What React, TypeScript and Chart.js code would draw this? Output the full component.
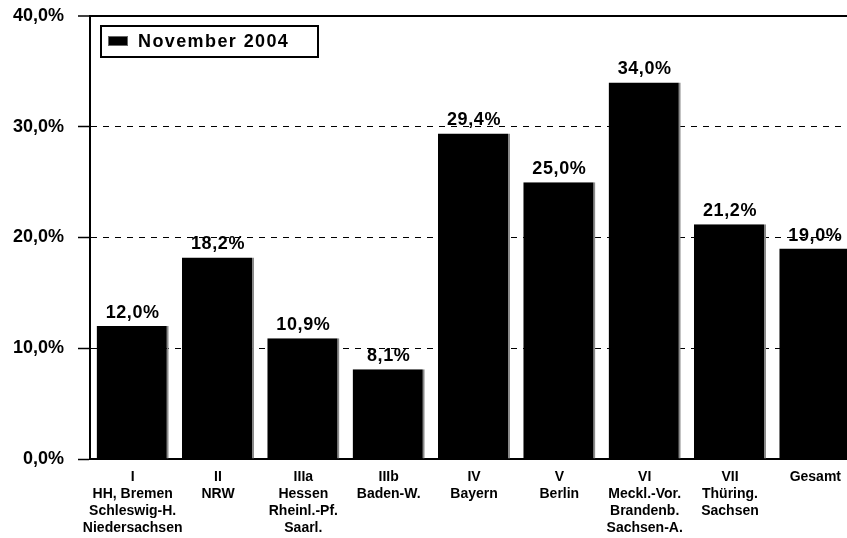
import React, { useEffect, useRef } from "react";
import { Chart, registerables } from "chart.js";

Chart.register(...registerables);

const categories: string[][] = [
  ["I", "HH, Bremen", "Schleswig-H.", "Niedersachsen"],
  ["II", "NRW"],
  ["IIIa", "Hessen", "Rheinl.-Pf.", "Saarl."],
  ["IIIb", "Baden-W."],
  ["IV", "Bayern"],
  ["V", "Berlin"],
  ["VI", "Meckl.-Vor.", "Brandenb.", "Sachsen-A."],
  ["VII", "Thüring.", "Sachsen"],
  ["Gesamt"],
];
const seriesLabel = "November 2004";
const values: number[] = [12.0, 18.2, 10.9, 8.1, 29.4, 25.0, 34.0, 21.2, 19.0];
const yTicks: number[] = [0, 10, 20, 30, 40];

const fmt = (v: number) => v.toFixed(1).replace(".", ",") + "%";
const FONT = "'Liberation Sans', Arial, Helvetica, sans-serif";

const valueLabelPlugin = {
  id: "valueLabels",
  afterDatasetsDraw(chart: any) {
    const ctx = chart.ctx;
    const meta = chart.getDatasetMeta(0);
    ctx.save();
    ctx.font = `bold 18px ${FONT}`;
    (ctx as any).letterSpacing = "0.6px";
    ctx.fillStyle = "#000";
    ctx.textAlign = "center";
    ctx.textBaseline = "alphabetic";
    meta.data.forEach((bar: any, i: number) => {
      ctx.fillText(fmt(values[i]), bar.x, bar.y - 8);
    });
    ctx.restore();
  },
};

const frameLegendPlugin = {
  id: "frameLegend",
  afterDraw(chart: any) {
    const ctx = chart.ctx;
    const { left, top } = chart.chartArea;
    ctx.save();
    ctx.fillStyle = "#fff";
    ctx.fillRect(left + 11, top + 10, 217, 31);
    ctx.lineWidth = 2;
    ctx.strokeStyle = "#000";
    ctx.strokeRect(left + 11, top + 10, 217, 31);
    ctx.fillStyle = "#000";
    ctx.fillRect(left + 18, top + 20, 20, 10);
    ctx.lineWidth = 1;
    ctx.strokeStyle = "#666";
    ctx.strokeRect(left + 18.5, top + 20.5, 19, 9);
    ctx.fillStyle = "#000";
    ctx.font = `bold 18px ${FONT}`;
    (ctx as any).letterSpacing = "1.4px";
    ctx.textAlign = "left";
    ctx.textBaseline = "middle";
    ctx.fillText(seriesLabel, left + 48, top + 26);
    ctx.restore();
  },
};

export default function App() {
  const ref = useRef<HTMLCanvasElement | null>(null);
  useEffect(() => {
    if (!ref.current) return;
    const chart = new Chart(ref.current, {
      type: "bar",
      data: {
        labels: categories,
        datasets: [
          {
            label: seriesLabel,
            data: values,
            backgroundColor: "#000",
            borderColor: "#8a8a8a",
            borderWidth: { right: 2, left: 0, top: 0, bottom: 0 } as any,
            borderSkipped: false,
            categoryPercentage: 1,
            barPercentage: 0.845,
          },
        ],
      },
      options: {
        responsive: false,
        animation: false,
        devicePixelRatio: 1,
        layout: { padding: { top: 16, left: 0, right: 0, bottom: 0 } },
        plugins: { legend: { display: false }, tooltip: { enabled: false } },
        scales: {
          x: {
            grid: { display: false, drawTicks: false },
            border: { display: true, color: "#000", width: 2 },
            ticks: {
              color: "#000",
              font: { family: FONT, size: 14, weight: "bold", lineHeight: 1.2 },
              padding: 10,
              maxRotation: 0,
              autoSkip: false,
            },
            afterFit: (s: any) => {
              s.height = 79;
              s.paddingLeft = 0;
              s.paddingRight = 0;
            },
          },
          y: {
            min: 0,
            max: 40,
            afterBuildTicks: (s: any) => {
              s.ticks = yTicks.map((v) => ({ value: v }));
            },
            ticks: {
              color: "#000",
              font: { family: FONT, size: 18, weight: "bold" },
              padding: 14,
              callback: (v: any) => fmt(Number(v)),
            },
            grid: {
              color: "#000",
              lineWidth: (c: any) => (c.tick && c.tick.value === 40 ? 2 : 1),
              tickLength: 12,
              tickColor: "#000",
              tickWidth: 1.5,
              tickBorderDash: [],
            },
            border: {
              display: true,
              color: "#000",
              width: 2,
              dash: (c: any) => (c.tick && (c.tick.value === 40 || c.tick.value === 0) ? [] : [6, 6]),
            } as any,
            afterFit: (s: any) => {
              s.width = 90;
              s.paddingTop = 0;
              s.paddingBottom = 0;
            },
          },
        },
      },
      plugins: [valueLabelPlugin, frameLegendPlugin],
    });
    return () => chart.destroy();
  }, []);
  return (
    <div
      style={{
        position: "fixed",
        left: 0,
        top: 0,
        width: 847,
        height: 538,
        overflow: "hidden",
        background: "#fff",
      }}
    >
      <canvas ref={ref} width={858} height={538} style={{ display: "block" }} />
    </div>
  );
}
